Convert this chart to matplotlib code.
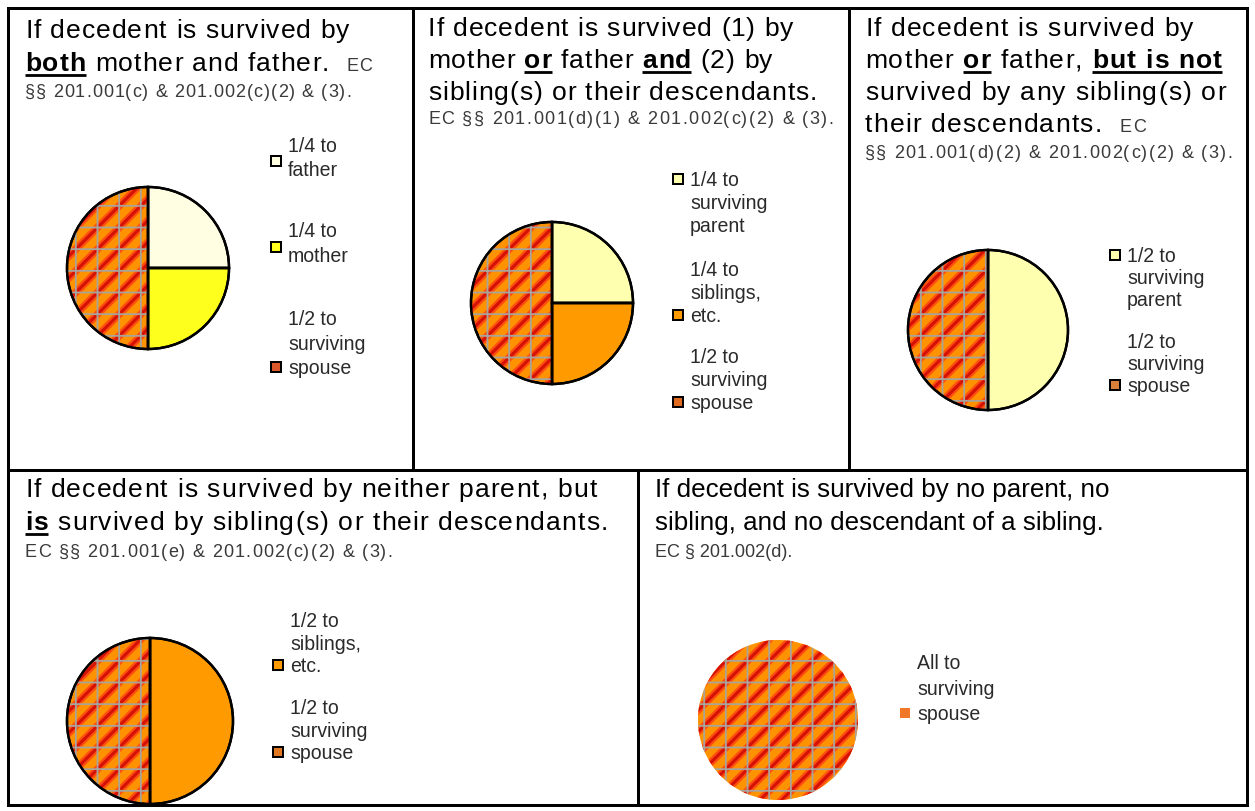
import matplotlib
matplotlib.use("Agg")
import matplotlib.pyplot as plt
from matplotlib.patches import Wedge, Rectangle

# ---------------- data ----------------
p1_labels = ["1/4 to\nfather", "1/4 to\nmother", "1/2 to\nsurviving\nspouse"]
p1_shares = [0.25, 0.25, 0.50]
p2_labels = ["1/4 to\nsurviving\nparent", "1/4 to\nsiblings,\netc.", "1/2 to\nsurviving\nspouse"]
p2_shares = [0.25, 0.25, 0.50]
p3_labels = ["1/2 to\nsurviving\nparent", "1/2 to\nsurviving\nspouse"]
p3_shares = [0.50, 0.50]
p4_labels = ["1/2 to\nsiblings,\netc.", "1/2 to\nsurviving\nspouse"]
p4_shares = [0.50, 0.50]
p5_labels = ["All to\nsurviving\nspouse"]
p5_shares = [1.00]

# title lines: list of segments (text, style) n=normal, b=bold underlined, s=small
p1_title = [[("If decedent is survived by", "n")],
            [("both", "b"), (" mother and father.  ", "n"), ("EC", "s")],
            [("§§ 201.001(c) & 201.002(c)(2) & (3).", "s")]]
p2_title = [[("If decedent is survived (1) by", "n")],
            [("mother ", "n"), ("or", "b"), (" father ", "n"), ("and", "b"), (" (2) by", "n")],
            [("sibling(s) or their descendants.", "n")],
            [("EC §§ 201.001(d)(1) & 201.002(c)(2) & (3).", "s")]]
p3_title = [[("If decedent is survived by", "n")],
            [("mother ", "n"), ("or", "b"), (" father, ", "n"), ("but is not", "b")],
            [("survived by any sibling(s) or", "n")],
            [("their descendants.  ", "n"), ("EC", "s")],
            [("§§ 201.001(d)(2) & 201.002(c)(2) & (3).", "s")]]
p4_title = [[("If decedent is survived by neither parent, but", "n")],
            [("is", "b"), (" survived by sibling(s) or their descendants.", "n")],
            [("EC §§ 201.001(e) & 201.002(c)(2) & (3).", "s")]]
p5_title = [[("If decedent is survived by no parent, no", "n")],
            [("sibling, and no descendant of a sibling.", "n")],
            [("EC § 201.002(d).", "s")]]

# ---------------- style / layout ----------------
W, H, DPI = 1255, 811, 130
def pt(px):
    return px * 72.0 / DPI

C_FATHER = "#FFFDE2"
C_MOTHER = "#FFFF1E"
C_PARENT = "#FFFFB0"
C_SIB = "#FF9A00"
C_SPOUSE = "#FF9200"

panels = [
    dict(title=p1_title, tx=25, tb=[38, 71, 97], fs=26.5, trk=1.0, strk=1.0,
         labels=p1_labels, shares=p1_shares, colors=[C_FATHER, C_MOTHER, C_SPOUSE],
         center=(148, 268), r=81,
         lx=288, lbase=[[152, 176], [237, 262], [325, 350, 374]], mline=[0.5, 0.5, 2],
         mcol=[C_FATHER, C_MOTHER, "#D8582C"]),
    dict(title=p2_title, tx=428, tb=[36, 68, 100, 124], fs=26.5, trk=0.9, strk=1.5,
         labels=p2_labels, shares=p2_shares, colors=[C_PARENT, C_SIB, C_SPOUSE],
         center=(552, 303), r=81,
         lx=690, lbase=[[186, 209, 232], [276, 299, 322], [363, 386, 409]], mline=[0, 2, 2],
         mcol=[C_PARENT, C_SIB, "#E06A20"]),
    dict(title=p3_title, tx=865, tb=[36, 68, 100, 132, 158], fs=26.5, trk=1.15, strk=1.4,
         labels=p3_labels, shares=p3_shares, colors=[C_PARENT, C_SPOUSE],
         center=(988, 330), r=80,
         lx=1127, lbase=[[262, 284, 306], [348, 370, 392]], mline=[0, 2],
         mcol=[C_PARENT, "#D8803C"]),
    dict(title=p4_title, tx=25, tb=[497, 530, 557], fs=26.5, trk=1.1, strk=1.2,
         labels=p4_labels, shares=p4_shares, colors=[C_SIB, C_SPOUSE],
         center=(150, 721), r=83,
         lx=290, lbase=[[627, 650, 672], [714, 737, 759]], mline=[2, 2],
         mcol=[C_SIB, "#E07820"]),
    dict(title=p5_title, tx=655, tb=[497, 530, 557], fs=26, trk=0.0, strk=0.0,
         labels=p5_labels, shares=p5_shares, colors=[C_SPOUSE],
         center=(778, 720), r=80,
         lx=917, lbase=[[669, 695, 720]], mline=[2],
         mcol=["#F07828"], noedge=True),
]

plt.rcParams["font.family"] = ["Liberation Sans", "DejaVu Sans"]
FS_S, FS_L = pt(18), pt(19.5)

fig = plt.figure(figsize=(W / DPI, H / DPI), dpi=DPI)
ax = fig.add_axes([0, 0, 1, 1])


def hatched(w, color, hatch, lw_px, z):
    p = Wedge(w.center, w.r, w.theta1, w.theta2, facecolor="none",
              edgecolor=color, linewidth=0, hatch=hatch, zorder=z)
    if hasattr(p, "set_hatch_linewidth"):
        p.set_hatch_linewidth(pt(lw_px))
    else:
        p._hatch_linewidth = pt(lw_px)
    ax.add_patch(p)


for pn in panels:
    edge = "none" if pn.get("noedge") else "black"
    wedges, _ = ax.pie(pn["shares"], colors=pn["colors"], center=pn["center"],
                       radius=pn["r"], startangle=-90, counterclock=True,
                       wedgeprops=dict(edgecolor=edge, linewidth=pt(2.4)))
    for lab, w in zip(pn["labels"], wedges):
        w.set_zorder(1)
        if "spouse" in lab:
            hatched(w, "#FF4E10", "//", 7.5, 2)
            hatched(w, "#D41206", "//", 3.2, 3)
            hatched(w, "#A8A49C", "+", 1.8, 4)
        if edge != "none":
            ax.add_patch(Wedge(w.center, w.r, w.theta1, w.theta2, fill=False,
                               edgecolor="black", linewidth=pt(2.4), zorder=5))
    # legend
    for lab, bases, ml, mc in zip(pn["labels"], pn["lbase"], pn["mline"], pn["mcol"]):
        for line, b in zip(lab.split("\n"), bases):
            ax.text(pn["lx"], b, line, fontsize=FS_L, color="#2a2a2a",
                    va="baseline", ha="left", zorder=6)
        if ml == 0.5:
            my = (bases[0] + bases[1]) / 2 - 3
        else:
            my = bases[int(ml)] - 7
        s = 10
        ax.add_patch(Rectangle((pn["lx"] - 17, my - s / 2), s, s, facecolor=mc,
                               edgecolor="none" if pn.get("noedge") else "black",
                               linewidth=pt(2), zorder=6))

# frame lines
lw_frame = pt(3)
ax.add_patch(Rectangle((8, 8), 1239, 797, fill=False, edgecolor="black",
                       linewidth=lw_frame, zorder=7))
ax.plot([8, 1247], [470, 470], color="black", lw=lw_frame, zorder=7, solid_capstyle="butt")
ax.plot([413, 413], [8, 470], color="black", lw=lw_frame, zorder=7, solid_capstyle="butt")
ax.plot([849, 849], [8, 470], color="black", lw=lw_frame, zorder=7, solid_capstyle="butt")
ax.plot([638, 638], [470, 805], color="black", lw=lw_frame, zorder=7, solid_capstyle="butt")

ax.set_xlim(0, W)
ax.set_ylim(H, 0)
ax.set_aspect("auto")
ax.axis("off")

renderer = fig.canvas.get_renderer()
_cache = {}


def char_width(ch, **kw):
    key = (ch, kw.get("fontsize"), kw.get("fontweight", "normal"))
    if key not in _cache:
        t1 = ax.text(0, 0, ch + "|", **kw)
        t2 = ax.text(0, 0, "|", **kw)
        _cache[key] = (t1.get_window_extent(renderer).width
                       - t2.get_window_extent(renderer).width)
        t1.remove(); t2.remove()
    return _cache[key]


def tracked(x, y, s, track, **kw):
    """draw string char by char with extra letter spacing; return (x_end_glyphs, x_next)"""
    if track == 0:
        ax.text(x, y, s, va="baseline", ha="left", zorder=8, **kw)
        wfull = sum(char_width(c, **kw) for c in s)
        wstrip = sum(char_width(c, **kw) for c in s.rstrip())
        return x + wstrip, x + wfull
    last = x
    for ch in s:
        if ch != " ":
            ax.text(x, y, ch, va="baseline", ha="left", zorder=8, **kw)
            last = x + char_width(ch, **kw)
        x += char_width(ch, **kw) + track
    return last, x


for pn in panels:
    FS_T = pt(pn["fs"])
    for line, b in zip(pn["title"], pn["tb"]):
        x = pn["tx"]
        for txt, st in line:
            if st == "n":
                kw = dict(fontsize=FS_T, color="black")
                trk = pn["trk"]
            elif st == "b":
                kw = dict(fontsize=FS_T, color="black", fontweight="bold")
                trk = pn["trk"]
            else:
                kw = dict(fontsize=FS_S, color="#3a3a3a")
                trk = pn["strk"]
            x0 = x
            xe, x = tracked(x, b, txt, trk, **kw)
            if st == "b":
                ax.plot([x0, xe], [b + 4, b + 4], color="black", lw=pt(2.8),
                        solid_capstyle="butt", zorder=8)

fig.savefig("out.png", dpi=DPI, facecolor="white")
